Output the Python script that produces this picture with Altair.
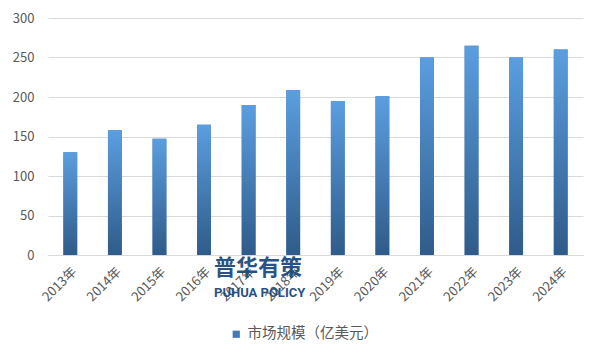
import altair as alt
import pandas as pd

years = ["2013年", "2014年", "2015年", "2016年", "2017年", "2018年",
         "2019年", "2020年", "2021年", "2022年", "2023年", "2024年"]
values = [130, 158, 147, 165, 190, 209, 195, 201, 250, 265, 250, 260]
series_name = "市场规模（亿美元）"
y_ticks = [0, 50, 100, 150, 200, 250, 300]

df = pd.DataFrame({"year": years, "value": values, "series": [series_name] * len(years)})

FONT = "Noto Sans CJK SC"
GREY = "#595959"

x_enc = alt.X("year:N", sort=years,
              scale=alt.Scale(paddingInner=0.69, paddingOuter=0.345),
              axis=alt.Axis(title=None, labelAngle=-45, ticks=False, labelPadding=10,
                            labelFontSize=13, labelColor=GREY, labelFont=FONT,
                            domainColor="#d9d9d9", grid=False))
y_enc = alt.Y("value:Q", scale=alt.Scale(domain=[0, 300], nice=False),
              axis=alt.Axis(title=None, values=y_ticks, ticks=False, domain=False,
                            labelPadding=14, labelFontSize=13, labelColor=GREY,
                            labelFont=FONT, gridColor="#d9d9d9"))

base = alt.Chart(df)

legend_layer = base.mark_bar().encode(
    x=x_enc, y=y_enc,
    color=alt.Color("series:N", scale=alt.Scale(domain=[series_name], range=["#4479b6"]),
                    legend=alt.Legend(title=None, orient="none", legendX=181, legendY=309,
                                      symbolType="square", symbolSize=52, padding=0,
                                      labelFontSize=14.5, labelColor=GREY, labelFont=FONT,
                                      labelOffset=4, symbolStrokeWidth=0))
)

grad = alt.Gradient(gradient="linear",
                    stops=[alt.GradientStop(color="#5b9ee0", offset=0),
                           alt.GradientStop(color="#2f5b89", offset=1)],
                    x1=0, x2=0, y1=0, y2=1)
bars = base.mark_bar(fill=grad).encode(x=x_enc, y=y_enc)

wm1 = alt.Chart(pd.DataFrame({"t": ["普华有策"]})).mark_text(
    align="left", baseline="alphabetic", fontSize=22, fontWeight="bold",
    font=FONT, color="#1d4a7e", opacity=0.95
).encode(text="t:N", x=alt.value(166), y=alt.value(257))

wm2 = alt.Chart(pd.DataFrame({"t": ["PUHUA POLICY"]})).mark_text(
    align="left", baseline="alphabetic", fontSize=13, fontWeight="bold",
    font="Roboto", color="#1d4a7e", opacity=0.95
).encode(text="t:N", x=alt.value(166), y=alt.value(279))

chart = alt.layer(legend_layer, bars, wm1, wm2).properties(
    width=535, height=237,
    autosize=alt.AutoSizeParams(type="none"),
    padding={"left": 40, "top": 10, "right": 10, "bottom": 98},
    background="white"
).configure_view(stroke=None)

chart.save("out.html", embed_options={"renderer": "svg", "actions": False})
